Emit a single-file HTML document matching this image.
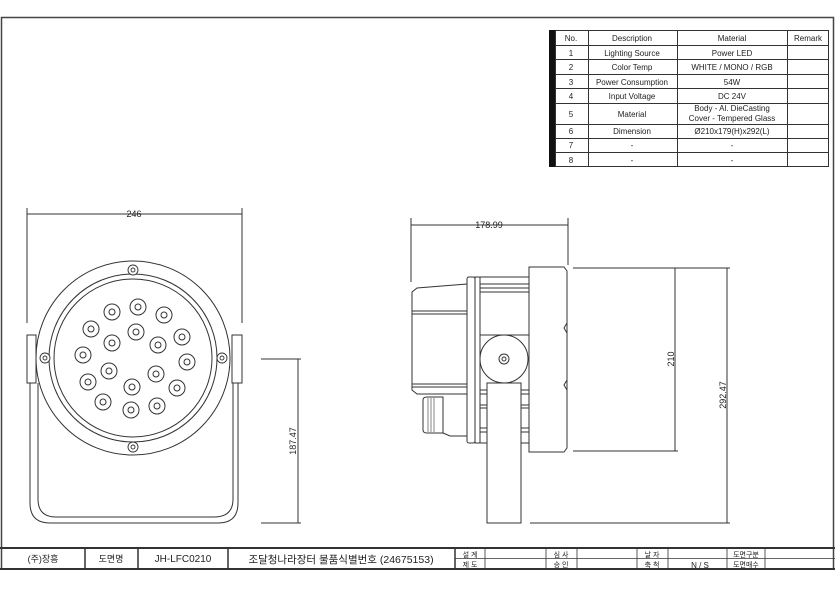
<!DOCTYPE html>
<html><head><meta charset="utf-8"><style>
html,body{margin:0;padding:0;background:#fff;width:835px;height:591px;overflow:hidden}
svg text{font-family:"Liberation Sans","Noto Sans CJK KR",sans-serif;fill:#222}
</style></head><body>
<svg width="835" height="591" viewBox="0 0 835 591" xmlns="http://www.w3.org/2000/svg">
<g fill="none" stroke="#333" stroke-width="1">
<path d="M1.5 570 V17.5 H833.5 V570" stroke="#444" stroke-width="1.5"/>
<rect x="549" y="30" width="6" height="137" fill="#111" stroke="none"/>
<rect x="555.5" y="30.5" width="273" height="136"/>
<path d="M588.5 30V167M677.5 30V167M787.5 30V167"/>
<path d="M555 45.5H829M555 59.5H829M555 74.5H829M555 88.5H829M555 103.5H829M555 124.5H829M555 138.5H829M555 152.5H829"/>
</g>
<g font-size="8" text-anchor="middle">
<text x="571" y="41">No.</text><text x="632" y="41">Description</text><text x="732" y="41">Material</text><text x="808" y="41">Remark</text>
<text x="571" y="56">1</text><text x="632" y="56">Lighting Source</text><text x="732" y="56">Power LED</text>
<text x="571" y="70">2</text><text x="632" y="70">Color Temp</text><text x="732" y="70">WHITE / MONO / RGB</text>
<text x="571" y="85">3</text><text x="632" y="85">Power Consumption</text><text x="732" y="85">54W</text>
<text x="571" y="99">4</text><text x="632" y="99">Input Voltage</text><text x="732" y="99">DC 24V</text>
<text x="571" y="117">5</text><text x="632" y="117">Material</text><text x="732" y="111">Body - Al. DieCasting</text><text x="732" y="121">Cover - Tempered Glass</text>
<text x="571" y="134">6</text><text x="632" y="134">Dimension</text><text x="732" y="134">Ø210x179(H)x292(L)</text>
<text x="571" y="148">7</text><text x="632" y="148">-</text><text x="732" y="148">-</text>
<text x="571" y="163">8</text><text x="632" y="163">-</text><text x="732" y="163">-</text>
</g>

<g fill="none" stroke="#333" stroke-width="1">
<path d="M27 214H242M27 208V323M242 208V323"/>
<rect x="27" y="335" width="9" height="48"/><rect x="232" y="335" width="10" height="48"/>
<path d="M30 383V503Q30 523 50 523H218Q238 523 238 503V383"/>
<path d="M38 383V499Q38 517 56 517H214Q233 517 233 499V383"/>
<circle cx="133" cy="358" r="97" fill="#fff"/>
<circle cx="133" cy="358" r="84"/>
<circle cx="133" cy="358" r="79"/>
<g stroke-width="0.9">
<circle cx="133" cy="270" r="5" fill="#fff"/><circle cx="133" cy="270" r="2"/>
<circle cx="133" cy="447" r="5" fill="#fff"/><circle cx="133" cy="447" r="2"/>
<circle cx="45" cy="358" r="5" fill="#fff"/><circle cx="45" cy="358" r="2"/>
<circle cx="222" cy="358" r="5" fill="#fff"/><circle cx="222" cy="358" r="2"/>
</g>
<g>
<circle cx="112" cy="312" r="8"/><circle cx="112" cy="312" r="3"/>
<circle cx="138" cy="307" r="8"/><circle cx="138" cy="307" r="3"/>
<circle cx="164" cy="315" r="8"/><circle cx="164" cy="315" r="3"/>
<circle cx="91" cy="329" r="8"/><circle cx="91" cy="329" r="3"/>
<circle cx="136" cy="332" r="8"/><circle cx="136" cy="332" r="3"/>
<circle cx="182" cy="337" r="8"/><circle cx="182" cy="337" r="3"/>
<circle cx="112" cy="343" r="8"/><circle cx="112" cy="343" r="3"/>
<circle cx="158" cy="345" r="8"/><circle cx="158" cy="345" r="3"/>
<circle cx="83" cy="355" r="8"/><circle cx="83" cy="355" r="3"/>
<circle cx="187" cy="362" r="8"/><circle cx="187" cy="362" r="3"/>
<circle cx="109" cy="371" r="8"/><circle cx="109" cy="371" r="3"/>
<circle cx="156" cy="374" r="8"/><circle cx="156" cy="374" r="3"/>
<circle cx="88" cy="382" r="8"/><circle cx="88" cy="382" r="3"/>
<circle cx="132" cy="387" r="8"/><circle cx="132" cy="387" r="3"/>
<circle cx="177" cy="388" r="8"/><circle cx="177" cy="388" r="3"/>
<circle cx="103" cy="402" r="8"/><circle cx="103" cy="402" r="3"/>
<circle cx="131" cy="410" r="8"/><circle cx="131" cy="410" r="3"/>
<circle cx="157" cy="406" r="8"/><circle cx="157" cy="406" r="3"/>
</g>
<path d="M261 359H301M261 523H301M298 359V523"/>
</g>
<text x="134" y="217" font-size="9" text-anchor="middle">246</text>
<text transform="translate(296 441) rotate(-90)" font-size="9" text-anchor="middle">187.47</text>

<g fill="none" stroke="#333" stroke-width="1">
<path d="M411 218V282M568 218V265M411 225H568"/>
<path d="M467 284L417 288L412 292V390L417 394H467"/>
<path d="M412 311H467M412 314H467M412 384H467M412 387H467"/>
<rect x="467" y="277" width="8" height="166" rx="2"/>
<rect x="475" y="277" width="5" height="166"/>
<path d="M480 284H529M480 288H529M480 292H529M480 335H529M480 390H529M480 394H529M480 405H529M480 408H529M480 428H529M480 432H529"/>
<path d="M480 277H529M480 443H529"/>
<path d="M443 397V433L450 436H467"/>
<path d="M423 400Q423 397 427 397H443V433H427Q423 433 423 430Z"/>
<path d="M428 398V432M431 398V432M434 398V432" stroke-width="0.6"/>
<path d="M529 267H564L567 271V448L564 452H529Z" fill="#fff"/>
<path d="M567 323L564 328L567 333M567 380L564 385L567 390"/>
<rect x="487" y="383" width="34" height="140" fill="#fff"/>
<circle cx="504" cy="359" r="24" fill="#fff"/>
<circle cx="504" cy="359" r="5"/><circle cx="504" cy="359" r="2"/>
<path d="M573 268H678M675 268V451M573 451H678"/>
<path d="M678 268H730M727 268V523M530 523H730"/>
</g>
<text x="489" y="228" font-size="9" text-anchor="middle">178.99</text>
<text transform="translate(674 359) rotate(-90)" font-size="9" text-anchor="middle">210</text>
<text transform="translate(726 395) rotate(-90)" font-size="9" text-anchor="middle">292.47</text>

<g fill="none" stroke="#333">
<path d="M0 548H835M0 569H835" stroke-width="2"/>
<path d="M85 548V569M138 548V569M228 548V569M455 548V569" stroke-width="1.5"/>
<path d="M455 558.5H835" stroke-width="0.8"/>
<path d="M485 548V569M546 548V569M577 548V569M637 548V569M668 548V569M727 548V569M765 548V569" stroke-width="0.8"/>
</g>
<g font-size="9" text-anchor="middle">
<text x="43" y="562">(주)장흥</text>
<text x="111" y="562">도면명</text>
<text x="183" y="562" font-size="10">JH-LFC0210</text>
<text x="341" y="563" font-size="10.5">조달청나라장터 물품식별번호 (24675153)</text>
<g font-size="7">
<text x="470" y="557">설  계</text><text x="470" y="567">제  도</text>
<text x="561" y="557">심  사</text><text x="561" y="567">승  인</text>
<text x="652" y="557">날  자</text><text x="652" y="567">축  척</text>
<text x="746" y="557">도면구분</text><text x="746" y="567">도면매수</text>
</g>
<text x="700" y="568" font-size="8">N / S</text>
</g>
</svg>
</body></html>
